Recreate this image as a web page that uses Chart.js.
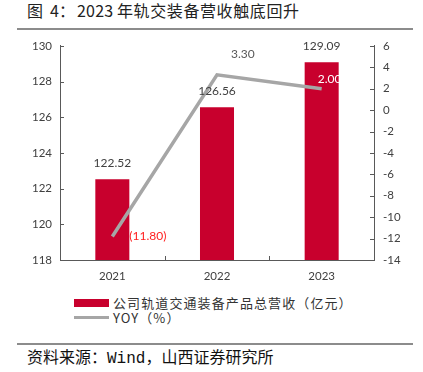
<!DOCTYPE html>
<html>
<head>
<meta charset="utf-8">
<script src="https://cdn.jsdelivr.net/npm/chart.js@4"></script>
<style>
  html, body { margin: 0; padding: 0; background: #fff; }
  #page { position: relative; width: 423px; height: 372px; overflow: hidden; font-family: "Noto Sans CJK SC", "Noto Sans", sans-serif; }
  .t { position: absolute; top: 0px; font-size: 16px; line-height: 20px; color: #222; white-space: nowrap; }
  #rule1 { position: absolute; left: 17px; top: 28px; width: 396px; height: 2px; background: #8c8c8c; }
  #chartBox { position: absolute; left: 0; top: 30px; width: 423px; height: 260px; }
  #legend { position: absolute; left: 74px; top: 295px; font-size: 13px; letter-spacing: 1.1px; color: #333; }
  .lg { display: flex; align-items: center; height: 15px; white-space: nowrap; }
  .sw { width: 35px; margin-right: 4px; }
  #rule2 { position: absolute; left: 17px; top: 343px; width: 396px; height: 2px; background: #8c8c8c; }
  #source { position: absolute; left: 27px; top: 345px; font-size: 16px; line-height: 22px; color: #111; white-space: nowrap; }
  .mono { font-family: "Liberation Mono", "DejaVu Sans Mono", monospace; }
</style>
</head>
<body>
<div id="page">
  <div class="t" style="left:27px">图</div>
  <div class="t" style="left:50px">4：</div>
  <div class="t" style="left:77px;letter-spacing:0.2px">2023</div>
  <div class="t" style="left:117px;letter-spacing:0.6px">年轨交装备营收触底回升</div>
  <div id="rule1"></div>
  <div id="chartBox"><canvas id="c"></canvas></div>
  <div id="legend"></div>
  <div id="rule2"></div>
  <div id="source">资料来源：<span class="mono">Wind</span>，山西证券研究所</div>
</div>
<script>
// ---- data ----
const categories = ['2021', '2022', '2023'];
const revenueLabel = '公司轨道交通装备产品总营收（亿元）';
const revenue = [122.52, 126.56, 129.09];
const yoyLabel = 'YOY（%）';
const yoy = [-11.80, 3.30, 2.00];
const yoyText = ['(11.80)', '3.30', '2.00'];
const leftAxis = [118, 130, 2];   // min, max, step
const rightAxis = [-14, 6, 2];    // min, max, step

// ---- styles ----
const barColor = '#C8002D';
const lineColor = '#A6A6A6';
const axisColor = '#595959';
const textColor = '#404040';
const numFont = '"Lato", "Liberation Sans", sans-serif';
// label offsets relative to the line points (dx, dy, align, colour)
const yoyLabelStyle = [
  { dx: 17, dy: 0, align: 'left', color: '#FF2020' },
  { dx: 14, dy: -21, align: 'left', color: '#595959' },
  { dx: -4, dy: -10, align: 'left', color: '#FFFFFF' }
];

const innerTicks = {
  id: 'innerTicks',
  afterDraw(chart) {
    const ctx = chart.ctx;
    ctx.save();
    ctx.strokeStyle = axisColor;
    ctx.lineWidth = 1;
    const y = chart.scales.y, y1 = chart.scales.y1, x = chart.scales.x;
    ctx.beginPath();
    y.ticks.forEach((t, i) => {
      const p = Math.round(y.getPixelForTick(i)) + 0.5;
      ctx.moveTo(y.right, p); ctx.lineTo(y.right + 4, p);
    });
    y1.ticks.forEach((t, i) => {
      const p = Math.round(y1.getPixelForTick(i)) + 0.5;
      ctx.moveTo(y1.left - 4, p); ctx.lineTo(y1.left, p);
    });
    for (let i = 0; i < x.ticks.length - 1; i++) {
      const p = Math.round((x.getPixelForTick(i) + x.getPixelForTick(i + 1)) / 2) + 0.5;
      ctx.moveTo(p, x.top); ctx.lineTo(p, x.top - 4);
    }
    ctx.stroke();
    ctx.restore();
  }
};

const valueLabels = {
  id: 'valueLabels',
  afterDatasetsDraw(chart) {
    const ctx = chart.ctx;
    ctx.save();
    ctx.font = '12px ' + numFont;
    ctx.textBaseline = 'middle';
    const barMeta = chart.getDatasetMeta(0);
    barMeta.data.forEach((el, i) => {
      ctx.fillStyle = textColor;
      ctx.textAlign = 'center';
      ctx.fillText(revenue[i].toFixed(2), el.x, el.y - 16);
    });
    const lineMeta = chart.getDatasetMeta(1);
    lineMeta.data.forEach((el, i) => {
      const s = yoyLabelStyle[i];
      ctx.fillStyle = s.color;
      ctx.textAlign = s.align;
      ctx.fillText(yoyText[i], el.x + s.dx, el.y + s.dy);
    });
    ctx.restore();
  }
};

const chart = new Chart(document.getElementById('c'), {
  data: {
    labels: categories,
    datasets: [
      {
        type: 'bar', label: revenueLabel, data: revenue, yAxisID: 'y',
        backgroundColor: barColor, borderWidth: 0,
        categoryPercentage: 1, barPercentage: 0.325, order: 2
      },
      {
        type: 'line', label: yoyLabel, data: yoy, yAxisID: 'y1',
        borderColor: lineColor, backgroundColor: lineColor, borderWidth: 3.5,
        pointRadius: 0, tension: 0, order: 1
      }
    ]
  },
  options: {
    responsive: true, maintainAspectRatio: false, animation: false,
    layout: { padding: { top: 0, left: 0, right: 0, bottom: 0 } },
    plugins: { legend: { display: false }, tooltip: { enabled: false } },
    scales: {
      x: {
        grid: { display: false, drawTicks: false },
        border: { display: true, color: axisColor, width: 1 },
        ticks: { color: textColor, font: { family: numFont, size: 11.5 }, padding: 9 },
        afterFit(s) { s.height = 30; }
      },
      y: {
        position: 'left', min: leftAxis[0], max: leftAxis[1],
        grid: { display: false, drawTicks: false },
        border: { display: true, color: axisColor, width: 1 },
        ticks: { stepSize: leftAxis[2], color: textColor, font: { family: numFont, size: 11.5 }, padding: 8 },
        afterFit(s) { s.width = 60; }
      },
      y1: {
        position: 'right', min: rightAxis[0], max: rightAxis[1],
        grid: { display: false, drawTicks: false },
        border: { display: true, color: axisColor, width: 1 },
        ticks: { stepSize: rightAxis[2], color: textColor, font: { family: numFont, size: 11.5 }, padding: 9 },
        afterFit(s) { s.width = 49; }
      }
    }
  },
  plugins: [innerTicks, valueLabels]
});

// HTML legend built from the datasets
const legend = document.getElementById('legend');
chart.data.datasets.forEach(ds => {
  const row = document.createElement('div');
  row.className = 'lg';
  const sw = document.createElement('span');
  sw.className = 'sw';
  if (ds.type === 'bar') { sw.style.height = '8px'; sw.style.background = ds.backgroundColor; }
  else { sw.style.height = '3px'; sw.style.background = ds.borderColor; }
  const tx = document.createElement('span');
  tx.textContent = ds.label;
  row.appendChild(sw); row.appendChild(tx);
  legend.appendChild(row);
});
</script>
</body>
</html>
